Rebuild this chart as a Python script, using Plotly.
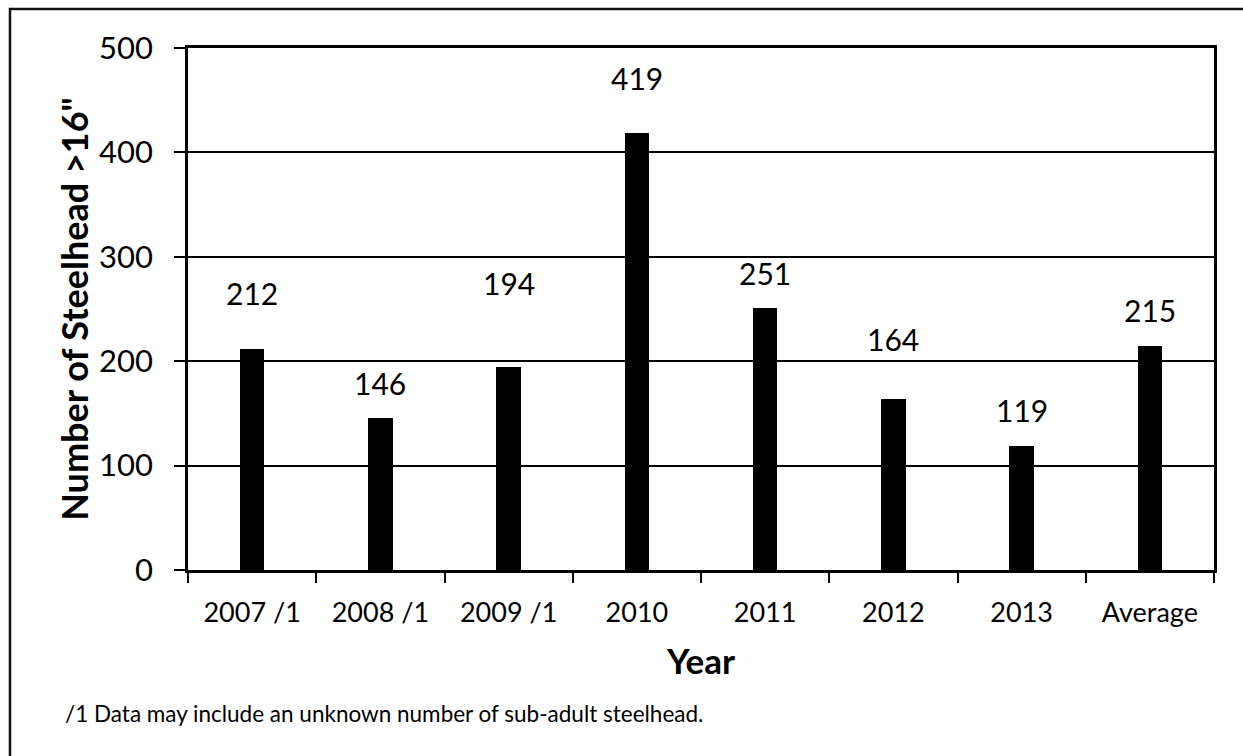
import plotly.graph_objects as go

# Steelhead counts (>16") by year
years = ["2007 /1", "2008 /1", "2009 /1", "2010", "2011", "2012", "2013", "Average"]
counts = [212, 146, 194, 419, 251, 164, 119, 215]

# vertical lift of each value label above its bar, in pixels
label_lift_px = [56, 35, 84, 55, 35, 60, 36, 36]

y_ticks = [0, 100, 200, 300, 400, 500]
footnote = "/1 Data may include an unknown number of sub-adult steelhead."

FONT = "Lato, 'Open Sans', sans-serif"

fig = go.Figure(
    go.Bar(
        x=years,
        y=counts,
        width=0.19,
        marker=dict(color="black", line=dict(width=0)),
        hoverinfo="x+y",
    )
)

# value labels; x given as category index so year-like names are not read as numbers
for i, (v, lift) in enumerate(zip(counts, label_lift_px)):
    fig.add_annotation(
        x=i, y=v, yshift=lift, text=str(v), showarrow=False,
        font=dict(family=FONT, size=30, color="black"),
        xanchor="center", yanchor="middle",
    )

# footnote under the axis title
fig.add_annotation(
    x=-0.122, xref="paper", y=-0.274, yref="paper",
    text=footnote, showarrow=False, xanchor="left", yanchor="middle",
    font=dict(family=FONT, size=22.5, color="black"),
)

# outer frame of the chart
fig.add_shape(
    type="rect", xref="paper", yref="paper",
    x0=-0.1735, x1=1.2, y0=-0.6, y1=1.0747,
    line=dict(color="#111", width=2.5), fillcolor="rgba(0,0,0,0)", layer="below",
)

fig.update_layout(
    width=1243, height=756,
    margin=dict(l=188, r=29, t=48, b=186),
    paper_bgcolor="white", plot_bgcolor="white",
    showlegend=False,
    bargap=0,
    font=dict(family=FONT, color="black"),
    xaxis=dict(
        type="category",
        categoryorder="array", categoryarray=years,
        range=[-0.5, len(years) - 0.5],
        showline=True, linecolor="black", linewidth=2.5, mirror=True,
        ticks="outside", tickson="boundaries", ticklen=10, tickwidth=2, tickcolor="black",
        tickangle=0,
        tickfont=dict(family=FONT, size=27, color="black"),
        ticklabelstandoff=17,
        showgrid=False,
        title=dict(text="<b>Year</b>", font=dict(family=FONT, size=35, color="black"), standoff=23),
    ),
    yaxis=dict(
        range=[0, 500], tickvals=y_ticks,
        showline=True, linecolor="black", linewidth=2.5, mirror=True,
        ticks="outside", ticklen=11, tickwidth=2, tickcolor="black",
        tickfont=dict(family=FONT, size=31, color="black"),
        ticklabelstandoff=15,
        showgrid=True, gridcolor="black", gridwidth=2.2,
        zeroline=False,
        title=dict(text="<b>Number of Steelhead >16\"</b>", font=dict(family=FONT, size=36, color="black"), standoff=0),
    ),
)

fig.write_html("out.html")
